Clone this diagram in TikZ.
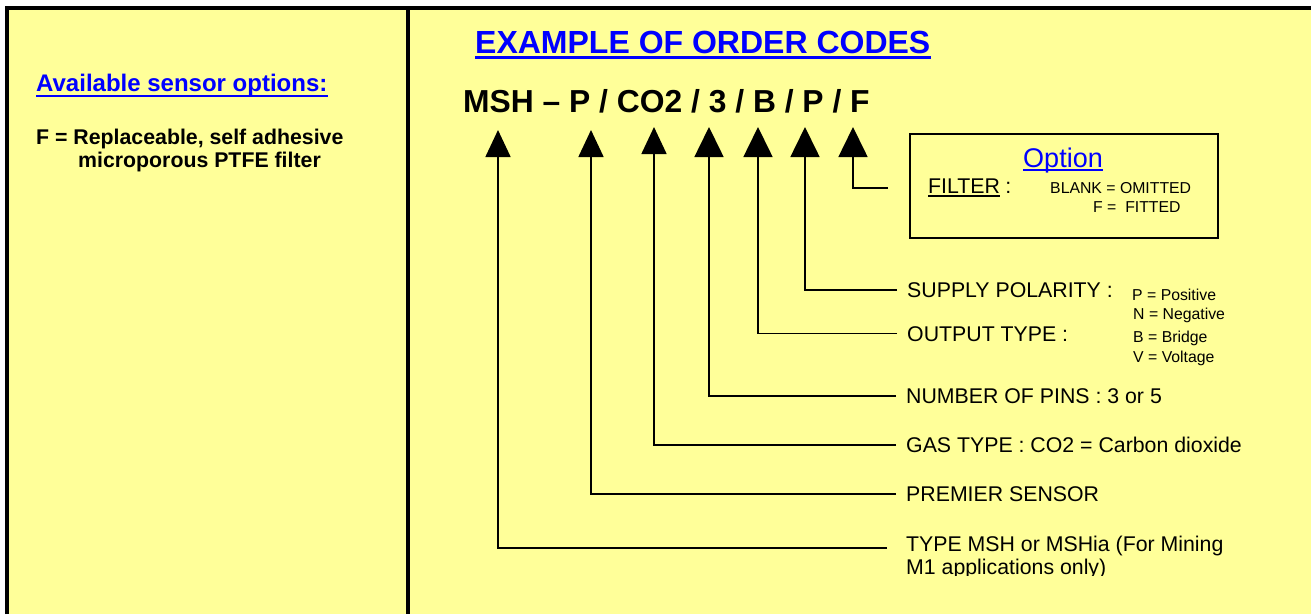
\documentclass[tikz,border=0pt]{standalone}
\usepackage{fontspec}
\setmainfont{Liberation Sans}
\usetikzlibrary{arrows.meta}
\definecolor{bgyel}{HTML}{FFFF99}
\definecolor{lblue}{HTML}{0000FF}
\newcommand\myfs[1]{\fontsize{#1}{#1}\selectfont}
\begin{document}
\begin{tikzpicture}[x=1pt,y=-1pt,
  frame/.style={line width=3.5pt},
  lab/.style={anchor=west, inner xsep=10pt, inner ysep=0pt, text height=15pt, text depth=0pt, font=\myfs{21.3}},
  small/.style={anchor=base west, inner sep=0pt, font=\myfs{15.8}},
  txt/.style={anchor=base west, inner sep=0pt},
  conn/.style={line width=1.6pt},
  arrS/.style={conn, -{Triangle[length=27pt,width=25pt]}},
  arrL/.style={conn, -{Triangle[length=30pt,width=29pt]}}]
\useasboundingbox (0,0) rectangle (1311,614);
\fill[bgyel] (7,8) rectangle (1311,614);
\draw[frame] (7,614) -- (7,8) -- (1311,8);
\draw[frame] (408,8) -- (408,614);

% left panel
\node[txt, font=\myfs{24}\bfseries, text=lblue] (avail) at (36,91) {Available sensor options:};
\draw[lblue, line width=2.5pt] ([yshift=-5pt]avail.base west) -- ([yshift=-5pt]avail.base east);
\node[txt, font=\myfs{21.3}\bfseries] (fopt1) at (36,144) {F = Replaceable, self adhesive};
\node[txt, font=\myfs{21.3}\bfseries] (fopt2) at (78,167) {microporous PTFE filter};

% title and code
\node[txt, font=\myfs{32}\bfseries, text=lblue] (title) at (475,53) {EXAMPLE OF ORDER CODES};
\draw[lblue, line width=3pt] ([yshift=-4.5pt]title.base west) -- ([yshift=-4.5pt]title.base east);
\node[txt, font=\myfs{31.8}\bfseries] (code) at (463,112) {MSH – P / CO2 / 3 / B / P / F};

% arrow tips
\coordinate (t1) at (498,130);
\coordinate (t2) at (591,130);
\coordinate (t3) at (654,127);
\coordinate (t4) at (709,127);
\coordinate (t5) at (758,127);
\coordinate (t6) at (805,127);
\coordinate (t7) at (853,127);
\coordinate (fend) at (888,188);

% option box
\node[draw, line width=2pt, anchor=north west, minimum width=308pt, minimum height=104pt, inner sep=0pt] (optbox) at (909,133) {};
\node[anchor=base, inner sep=0pt, font=\myfs{27}, text=lblue] (opt) at (1063,167) {Option};
\draw[lblue, line width=1.3pt] ([yshift=-3pt]opt.base west) -- ([yshift=-3pt]opt.base east);
\node[txt, font=\myfs{21.3}] (filt) at (928,193) {FILTER};
\draw[line width=1.8pt] ([yshift=-3pt]filt.base west) -- ([yshift=-3pt]filt.base east);
\node[txt, font=\myfs{21.3}] (fcol) at ([xshift=5pt]filt.base east) {:};
\node[small] (blank) at (1050,193) {BLANK = OMITTED};
\node[small] (fitted) at (1093,212) {F =\ \ FITTED};

% labels
\node[lab] (sup) at (897,290) {SUPPLY POLARITY :};
\node[small] (pos) at (1132,300) {P = Positive};
\node[small] (neg) at (1133,319) {N = Negative};
\node[lab] (out) at (897,333.5) {OUTPUT TYPE :};
\node[small] (bri) at (1133,342) {B = Bridge};
\node[small] (vol) at (1133,362) {V = Voltage};
\node[lab] (pins) at (896,396) {NUMBER OF PINS : 3 or 5};
\node[lab] (gas) at (896,445) {GAS TYPE : CO2 = Carbon dioxide};
\node[lab] (prem) at (896,494) {PREMIER SENSOR};
\node[lab, inner xsep=19pt, text height=7.4pt] (msh) at (887,548) {TYPE MSH or MSHia (For Mining};
\begin{scope}
\clip (880,556) rectangle (1311,575);
\node[txt, font=\myfs{21.3}] (msh2) at (906,574) {M1 applications only)};
\end{scope}

% connectors
\draw[arrL] (fend) -| (t7);
\draw[arrL] (sup.west) -| (t6);
\draw[arrL] (out.west) -| (t5);
\draw[arrL] (pins.west) -| (t4);
\draw[arrS] (gas.west) -| (t3);
\draw[arrS] (prem.west) -| (t2);
\draw[arrS] (msh.west) -| (t1);
\end{tikzpicture}
\end{document}
